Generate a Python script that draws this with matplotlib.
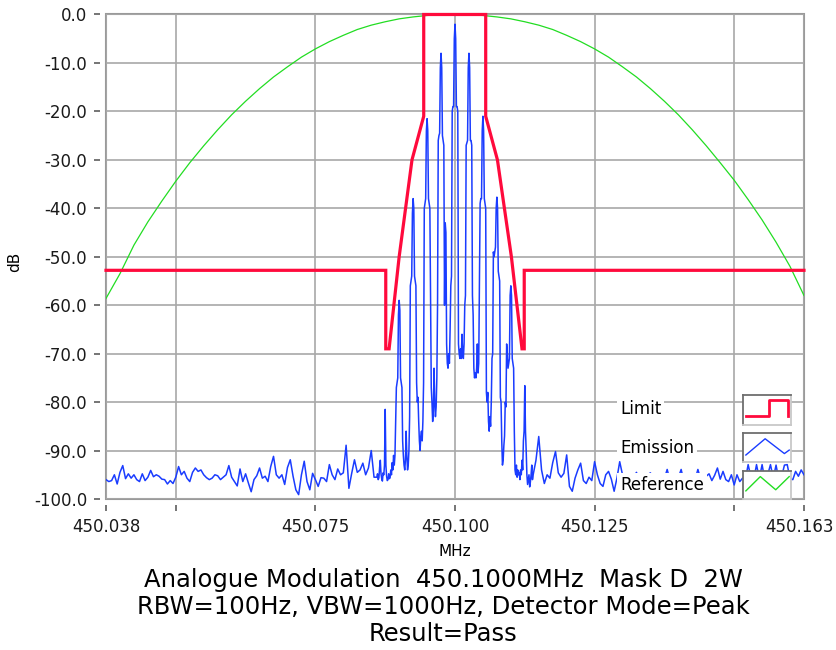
#!/usr/bin/env python3
"""
Emission mask plot: limit mask, measured emission and reference curve.
"""

import matplotlib

matplotlib.use("Agg")
import matplotlib.pyplot as plt
import matplotlib.transforms as mtransforms
import numpy as np


F_START = 450.0375
F_STOP = 450.1625

# limit mask breakpoints (MHz, dB)
limit_freq = [450.0375, 450.0876, 450.0876, 450.0882, 450.0900, 450.0923, 450.0944, 450.0944,
              450.1055, 450.1055, 450.1076, 450.1101, 450.1120, 450.1124, 450.1124, 450.1625]
limit_db = [-52.8, -52.8, -69.0, -69.0, -50.0, -30.0, -21.0, 0.0,
            0.0, -21.0, -30.0, -50.0, -69.0, -69.0, -52.8, -52.8]

# reference curve, one reading every 2.5 kHz
ref_db = [-58.6, -53.5, -47.6, -42.8, -38.5, -34.4, -30.6, -27.1, -23.8, -20.7,
          -17.9, -15.3, -12.9, -10.8, -8.8, -7.1, -5.6, -4.3, -3.1, -2.2,
          -1.5, -0.9, -0.5, -0.2, -0.05, 0.0, -0.05, -0.2, -0.5, -0.9,
          -1.5, -2.2, -3.1, -4.3, -5.6, -7.1, -8.8, -10.8, -12.9, -15.3,
          -17.9, -20.7, -23.8, -27.1, -30.6, -34.2, -38.2, -42.4, -47.0, -52.0,
          -58.0]

# emission trace: noise floor left of the channel (500 Hz steps)
left_noise_db = [-96.0, -96.4, -96.2, -95.0, -96.9, -94.5, -93.1, -95.8, -94.8, -95.7,
                 -95.0, -96.0, -96.4, -94.8, -96.2, -95.5, -94.1, -95.4, -95.0, -95.3,
                 -95.9, -96.0, -96.9, -96.2, -96.8, -95.5, -93.3, -95.0, -94.3, -95.7,
                 -96.4, -94.5, -93.6, -94.3, -94.0, -95.0, -95.6, -96.0, -95.7, -95.0,
                 -95.2, -96.0, -95.5, -95.0, -93.1, -95.5, -96.4, -97.3, -93.8, -96.4,
                 -94.8, -96.7, -98.5, -96.0, -95.2, -93.6, -95.7, -95.3, -96.4, -93.3,
                 -91.2, -95.0, -95.7, -95.0, -97.0, -93.5, -91.9, -95.3, -98.1, -99.1,
                 -95.0, -92.2, -96.4, -98.1, -94.7, -96.0, -97.4, -95.6, -95.7, -96.4,
                 -92.9, -95.0, -96.0, -93.8, -95.0, -94.6, -88.9, -97.8, -94.7, -91.9,
                 -94.5, -94.0, -92.6, -95.0, -93.6, -90.0, -95.5]

# emission trace inside the channel (125 Hz steps, -14 kHz .. +14 kHz)
center_db = [-95.5, -94.8, -96.0, -95.6, -93.5, -92.0, -94.8, -95.8, -96.3, -94.6,
             -95.0, -93.0, -81.5, -93.0, -95.3, -96.2, -96.0, -94.8, -95.8, -95.6,
             -94.0, -95.0, -92.5, -94.0, -91.0, -93.0, -91.0, -84.0, -77.0, -76.0,
             -75.0, -62.0, -59.0, -61.0, -75.0, -76.0, -77.0, -88.0, -91.0, -93.0,
             -94.0, -92.0, -86.0, -91.0, -94.0, -93.0, -90.0, -83.0, -56.0, -55.0,
             -54.0, -41.0, -38.0, -40.0, -54.0, -55.0, -56.0, -76.0, -80.0, -79.0,
             -84.0, -88.0, -90.0, -87.0, -86.0, -88.0, -84.0, -76.0, -40.0, -39.0,
             -38.0, -24.0, -21.5, -24.0, -38.0, -39.0, -40.0, -60.0, -77.0, -80.0,
             -84.0, -82.0, -73.0, -80.0, -83.0, -81.0, -75.0, -60.0, -26.0, -25.0,
             -24.5, -11.0, -8.0, -11.0, -25.0, -26.0, -27.0, -60.0, -43.0, -45.0,
             -68.0, -72.0, -73.0, -70.0, -72.0, -65.0, -56.0, -54.0, -20.0, -19.0,
             -19.0, -5.0, -2.0, -5.0, -19.0, -19.0, -20.0, -68.0, -70.0, -71.0,
             -69.0, -71.0, -66.0, -70.0, -71.0, -68.0, -60.0, -58.0, -27.0, -26.5,
             -26.0, -11.0, -8.0, -11.0, -26.0, -26.0, -27.0, -58.0, -62.0, -73.0,
             -75.0, -74.0, -75.0, -73.0, -68.0, -74.0, -72.0, -55.0, -39.0, -38.0,
             -38.0, -24.0, -21.0, -24.0, -38.0, -39.0, -40.0, -78.0, -80.0, -78.0,
             -84.0, -86.0, -83.0, -85.0, -80.0, -71.0, -70.0, -49.0, -50.0, -49.0,
             -48.0, -40.0, -37.7, -40.0, -53.0, -54.0, -55.0, -79.0, -80.0, -88.0,
             -93.0, -92.0, -89.0, -87.0, -80.0, -81.0, -68.0, -70.0, -73.0, -72.0,
             -71.0, -58.0, -56.0, -58.0, -71.0, -72.0, -73.0, -86.0, -94.0, -95.0,
             -93.0, -95.5, -94.0, -95.0, -94.5, -96.0, -94.0, -95.0, -92.0, -94.0,
             -88.0, -86.0, -76.6, -86.0, -90.0, -95.0, -97.0, -96.0, -95.0, -97.5,
             -96.5, -95.0, -93.0, -96.0, -95.0]

# emission trace: noise floor right of the channel (500 Hz steps)
right_noise_db = [-92.0, -87.1, -94.0, -96.8, -95.0, -95.7, -92.5, -90.2, -94.6, -95.5,
                  -94.7, -90.9, -97.4, -98.4, -95.7, -94.0, -92.6, -96.2, -96.8, -95.5,
                  -96.2, -92.3, -95.0, -96.8, -97.4, -95.0, -94.3, -95.9, -98.4, -95.7,
                  -92.3, -95.0, -96.0, -95.2, -97.0, -95.5, -94.5, -96.3, -95.8, -97.2,
                  -95.0, -94.6, -96.1, -95.4, -96.9, -95.3, -95.8, -93.9, -96.2, -95.0,
                  -97.1, -95.6, -93.9, -96.4, -95.2, -96.7, -95.1, -96.0, -93.9, -95.9,
                  -96.8, -95.3, -94.8, -96.2, -95.1, -93.6, -95.9, -94.3, -96.0, -96.4,
                  -95.0, -97.1, -95.0, -96.4, -95.7, -96.0, -92.9, -95.5, -96.0, -92.9,
                  -95.8, -92.9, -96.2, -95.0, -92.9, -95.7, -93.0, -96.1, -95.4, -93.0,
                  -92.9, -95.8, -96.0, -94.3, -95.3, -94.0, -95.0]

x_ticks = [450.0375, 450.05, 450.075, 450.1, 450.125, 450.15, 450.1625]
x_tick_labels = ["450.038", "", "450.075", "450.100", "450.125", "", "450.163"]
y_ticks = [0, -10, -20, -30, -40, -50, -60, -70, -80, -90, -100]
y_tick_labels = ["0.0", "-10.0", "-20.0", "-30.0", "-40.0", "-50.0",
                 "-60.0", "-70.0", "-80.0", "-90.0", "-100.0"]

legend_labels = ["Limit", "Emission", "Reference"]
title_lines = ["Analogue Modulation  450.1000MHz  Mask D  2W",
               "RBW=100Hz, VBW=1000Hz, Detector Mode=Peak",
               "Result=Pass"]

LIMIT_COLOR = "#ff0a3c"
EMISSION_COLOR = "#1a3cff"
REFERENCE_COLOR = "#22dd22"
GRID_COLOR = "#a8a8a8"

# legend icons, in box-fraction units
LIMIT_ICON = ([0.07, 0.55, 0.55, 0.93, 0.93], [0.31, 0.31, 0.84, 0.84, 0.31])
EMISSION_ICON = ([0.06, 0.46, 0.86, 0.96], [0.24, 0.80, 0.29, 0.41])
REFERENCE_ICON = ([0.06, 0.36, 0.68, 0.96], [0.29, 0.80, 0.33, 0.80])


def main() -> None:
    ref_freq = np.linspace(F_START, F_STOP, len(ref_db))
    em_freq = np.concatenate([
        np.linspace(450.0375, 450.0855, len(left_noise_db)),
        np.linspace(450.0860, 450.1140, len(center_db)),
        np.linspace(450.1145, 450.1625, len(right_noise_db)),
    ])
    em_db = np.concatenate([left_noise_db, center_db, right_noise_db])

    fig = plt.figure(figsize=(8.36, 6.5), dpi=100)
    ax = fig.add_axes([0.1268, 0.2323, 0.8349, 0.7454])

    ax.plot(ref_freq, ref_db, color=REFERENCE_COLOR, linewidth=0.9, zorder=2)
    ax.plot(em_freq, em_db, color=EMISSION_COLOR, linewidth=1.1, zorder=2.2)
    ax.plot(limit_freq, limit_db, color=LIMIT_COLOR, linewidth=2.3, zorder=2.5,
            clip_on=False, solid_joinstyle="miter")

    ax.set_xlim(F_START, F_STOP)
    ax.set_ylim(-100, 0)
    ax.set_xticks(x_ticks, x_tick_labels)
    ax.set_yticks(y_ticks, y_tick_labels)
    ax.grid(color=GRID_COLOR, linewidth=1.2)
    ax.set_axisbelow(True)

    for spine in ax.spines.values():
        spine.set_color("none")
    ax.spines["left"].set_position(("outward", 4))
    ax.spines["bottom"].set_position(("outward", 4))
    ax.patch.set_edgecolor("#9a9a9a")
    ax.patch.set_linewidth(1.5)
    ax.tick_params(axis="both", length=4.5, width=1.1, color="#505050",
                   labelsize=12, labelcolor="#1a1a1a", pad=5)

    # keep the last frequency label inside the picture
    last = ax.get_xticklabels()[-1]
    shift = mtransforms.ScaledTranslation(-4 / 100, 0, fig.dpi_scale_trans)
    last.set_transform(last.get_transform() + shift)

    ax.set_xlabel("MHz", fontsize=11, labelpad=6)
    ax.set_ylabel("dB", fontsize=11)
    ax.yaxis.set_label_coords(-0.12, 0.49)

    # legend: labels on the left, framed icon boxes on the right
    rows = [
        (0.1858, 0.1527, 0.0619, LIMIT_ICON, LIMIT_COLOR, 2.0),
        (0.1053, 0.0764, 0.0599, EMISSION_ICON, EMISSION_COLOR, 1.0),
        (0.0289, 0.0, 0.0578, REFERENCE_ICON, REFERENCE_COLOR, 1.0),
    ]
    for label, (text_y, box_y, box_h, icon, color, lw) in zip(legend_labels, rows):
        ax.text(0.7364, text_y, label, transform=ax.transAxes, fontsize=12,
                va="center", ha="left", zorder=4,
                bbox=dict(facecolor="white", edgecolor="none", pad=2))
        box = ax.inset_axes([0.9126, box_y, 0.069, box_h])
        box.plot(icon[0], icon[1], color=color, linewidth=lw)
        box.set_xlim(0, 1)
        box.set_ylim(0, 1)
        box.set_xticks([])
        box.set_yticks([])
        box.spines["top"].set_color("#6e6e6e")
        box.spines["left"].set_color("#6e6e6e")
        box.spines["bottom"].set_color("#c8c8c8")
        box.spines["right"].set_color("#c8c8c8")
        for spine in box.spines.values():
            spine.set_linewidth(1.3)

    for i, line in enumerate(title_lines):
        fig.text(0.530, 0.1077 - i * 0.0415, line, ha="center", va="center",
                 fontsize=17.5)

    fig.savefig("out.png", dpi=100)
    plt.close(fig)


if __name__ == "__main__":
    main()
